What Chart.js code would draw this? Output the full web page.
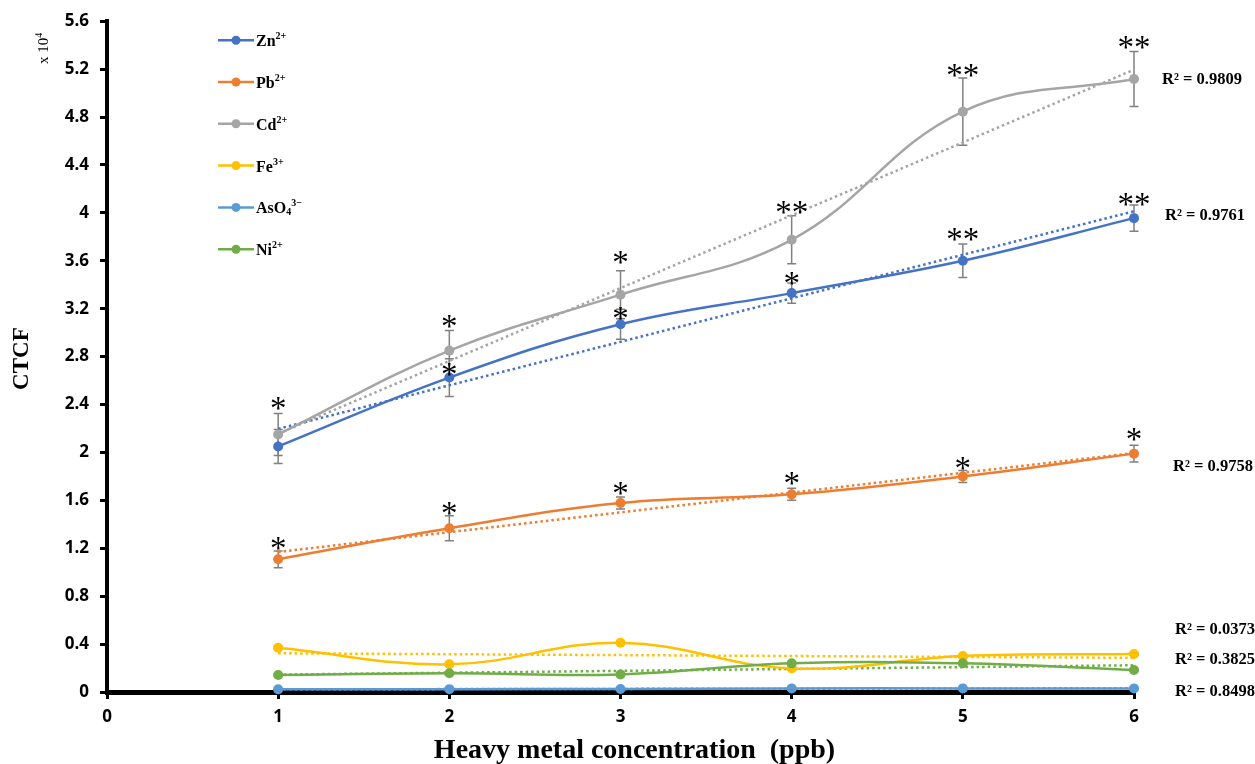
<!DOCTYPE html>
<html>
<head>
<meta charset="utf-8">
<script src="https://cdn.jsdelivr.net/npm/chart.js@4.4.1/dist/chart.umd.min.js"></script>
<style>
  html, body { margin: 0; padding: 0; background: #ffffff; }
  #wrap { width: 1255px; height: 764px; }
</style>
</head>
<body>
<div id="wrap"><canvas id="chart" width="1255" height="764"></canvas></div>
<script>
// Heavy metal concentration (ppb)
const concentrations = [1, 2, 3, 4, 5, 6];

// Mean CTCF (x 10^4) per metal ion
const zinc = [2.05, 2.625, 3.07, 3.33, 3.60, 3.956];
const lead = [1.108, 1.367, 1.578, 1.65, 1.80, 1.99];
const cadmium = [2.15, 2.85, 3.317, 3.775, 4.845, 5.117];
const iron = [0.369, 0.231, 0.411, 0.197, 0.30, 0.317];
const arsenate = [0.022, 0.024, 0.025, 0.03, 0.03, 0.03];
const nickel = [0.142, 0.156, 0.147, 0.239, 0.239, 0.183];

// Standard error (+/-)
const zincErr = [0.142, 0.158, 0.125, 0.085, 0.14, 0.11];
const leadErr = [0.07, 0.105, 0.05, 0.05, 0.05, 0.07];
const cadmiumErr = [0.175, 0.167, 0.2, 0.2, 0.28, 0.23];
const ironErr = [0.01, 0.01, 0.01, 0.01, 0.01, 0.01];
const arsenateErr = [0.005, 0.005, 0.005, 0.005, 0.005, 0.005];
const nickelErr = [0.01, 0.01, 0.01, 0.01, 0.01, 0.01];

// Significance marks and the level (CTCF units) each one sits at
const zincStars = ['', '*', '*', '*', '**', '**'];
const zincStarLevel = [0, 2.70, 3.167, 3.458, 3.833, 4.125];
const leadStars = ['*', '*', '*', '*', '*', '*'];
const leadStarLevel = [1.25, 1.542, 1.708, 1.792, 1.917, 2.158];
const cadmiumStars = ['*', '*', '*', '**', '**', '**'];
const cadmiumStarLevel = [2.417, 3.10, 3.633, 4.058, 5.20, 5.433];

// Coefficients of determination of the linear trends
const r2Text = ['R² = 0.9809', 'R² = 0.9761', 'R² = 0.9758', 'R² = 0.0373', 'R² = 0.3825', 'R² = 0.8498'];
const r2Level = [5.108, 3.975, 1.883, 0.517, 0.267, 0.0];

// Y tick values
const yTicks = [0, 0.4, 0.8, 1.2, 1.6, 2, 2.4, 2.8, 3.2, 3.6, 4, 4.4, 4.8, 5.2, 5.6];

const series = [
  { name: 'Zn', sup: '2+', sub: '', color: '#4472C4', values: zinc, err: zincErr },
  { name: 'Pb', sup: '2+', sub: '', color: '#ED7D31', values: lead, err: leadErr },
  { name: 'Cd', sup: '2+', sub: '', color: '#A5A5A5', values: cadmium, err: cadmiumErr },
  { name: 'Fe', sup: '3+', sub: '', color: '#FFC000', values: iron, err: ironErr },
  { name: 'AsO', sup: '3\u2212', sub: '4', color: '#5B9BD5', values: arsenate, err: arsenateErr },
  { name: 'Ni', sup: '2+', sub: '', color: '#70AD47', values: nickel, err: nickelErr }
];

const starSets = [
  { marks: zincStars, levels: zincStarLevel },
  { marks: leadStars, levels: leadStarLevel },
  { marks: cadmiumStars, levels: cadmiumStarLevel }
];

// least-squares line through a series
function linearFit(xs, ys) {
  const n = xs.length;
  const mx = xs.reduce((a, b) => a + b, 0) / n;
  const my = ys.reduce((a, b) => a + b, 0) / n;
  let sxy = 0, sxx = 0;
  for (let i = 0; i < n; i++) {
    sxy += (xs[i] - mx) * (ys[i] - my);
    sxx += (xs[i] - mx) * (xs[i] - mx);
  }
  const slope = sxy / sxx;
  return x => my + slope * (x - mx);
}

const datasets = [];
series.forEach((s, i) => {
  datasets.push({
    label: s.name,
    data: concentrations.map((c, k) => ({ x: c, y: s.values[k] })),
    borderColor: s.color,
    backgroundColor: s.color,
    borderWidth: 2.5,
    pointRadius: 5,
    pointBorderWidth: 0,
    pointBackgroundColor: s.color,
    tension: 0.4,
    clip: false,
    order: 10 - i,
    errorBars: s.err
  });
});
series.forEach((s, i) => {
  const fit = linearFit(concentrations, s.values);
  const x0 = concentrations[0], x1 = concentrations[concentrations.length - 1];
  datasets.push({
    label: s.name + ' trend',
    data: [{ x: x0, y: fit(x0) }, { x: x1, y: fit(x1) }],
    borderColor: s.color,
    borderWidth: 2.5,
    borderDash: [2.5, 3],
    pointRadius: 0,
    tension: 0,
    clip: false,
    order: 20 - i
  });
});

const serif = '"Liberation Serif", "Times New Roman", serif';

function drawRich(ctx, x, y, parts) {
  let cx = x;
  parts.forEach(p => {
    ctx.font = p.font;
    ctx.fillText(p.text, cx, y + (p.dy || 0));
    cx += ctx.measureText(p.text).width;
  });
  return cx;
}

const decorations = {
  id: 'decorations',
  beforeDatasetsDraw(chart) {
    const { ctx, scales: { x, y } } = chart;
    ctx.save();
    ctx.strokeStyle = '#808080';
    ctx.lineWidth = 1.5;
    chart.data.datasets.forEach(ds => {
      if (!ds.errorBars) return;
      ds.data.forEach((p, k) => {
        const e = ds.errorBars[k];
        const px = x.getPixelForValue(p.x);
        const top = y.getPixelForValue(p.y + e);
        const bot = y.getPixelForValue(p.y - e);
        ctx.beginPath();
        ctx.moveTo(px, top); ctx.lineTo(px, bot);
        ctx.moveTo(px - 4.5, top); ctx.lineTo(px + 4.5, top);
        ctx.moveTo(px - 4.5, bot); ctx.lineTo(px + 4.5, bot);
        ctx.stroke();
      });
    });
    ctx.restore();
  },
  afterDraw(chart) {
    const { ctx, chartArea, scales: { x, y } } = chart;
    ctx.save();

    // significance marks
    ctx.fillStyle = '#000';
    ctx.font = '33px ' + serif;
    ctx.textAlign = 'center';
    ctx.textBaseline = 'middle';
    starSets.forEach(set => {
      set.marks.forEach((m, k) => {
        if (!m) return;
        const px = x.getPixelForValue(concentrations[k]);
        const py = y.getPixelForValue(set.levels[k]);
        ctx.fillText(m, px, py + 8);
      });
    });

    // R² labels
    ctx.textAlign = 'left';
    ctx.textBaseline = 'middle';
    ctx.font = 'bold 16.5px ' + serif;
    const r2x = [1162, 1165, 1173, 1175, 1175, 1175];
    r2Text.forEach((t, i) => {
      ctx.fillText(t, r2x[i], y.getPixelForValue(r2Level[i]));
    });

    // legend
    const lx = chartArea.left + 111, ly = chartArea.top + 19, step = 41.8;
    series.forEach((s, i) => {
      const yy = ly + i * step;
      ctx.strokeStyle = s.color;
      ctx.lineWidth = 2.5;
      ctx.beginPath();
      ctx.moveTo(lx, yy); ctx.lineTo(lx + 36, yy);
      ctx.stroke();
      ctx.fillStyle = s.color;
      ctx.beginPath();
      ctx.arc(lx + 18, yy, 4.5, 0, Math.PI * 2);
      ctx.fill();
      ctx.fillStyle = '#000';
      ctx.textBaseline = 'alphabetic';
      const parts = [{ text: s.name, font: 'bold 16px ' + serif, dy: 6 }];
      if (s.sub) parts.push({ text: s.sub, font: 'bold 10px ' + serif, dy: 8 });
      parts.push({ text: s.sup, font: 'bold 10px ' + serif, dy: -1 });
      drawRich(ctx, lx + 38, yy, parts);
    });

    // axis titles
    ctx.fillStyle = '#000';
    ctx.textAlign = 'center';
    ctx.textBaseline = 'middle';
    ctx.font = 'bold 28px ' + serif;
    ctx.fillText('Heavy metal concentration  (ppb)', (chartArea.left + chartArea.right) / 2 + 14, chartArea.bottom + 59);

    ctx.save();
    ctx.translate(22, (chartArea.top + chartArea.bottom) / 2 + 2);
    ctx.rotate(-Math.PI / 2);
    ctx.font = 'bold 23px ' + serif;
    ctx.fillText('CTCF', 0, 0);
    ctx.restore();

    // axis multiplier
    ctx.save();
    ctx.translate(44, 64);
    ctx.rotate(-Math.PI / 2);
    ctx.textAlign = 'left';
    ctx.textBaseline = 'middle';
    drawRich(ctx, 0, 0, [
      { text: 'x 10', font: '15px ' + serif, dy: 0 },
      { text: '4', font: '10px ' + serif, dy: -5 }
    ]);
    ctx.restore();

    ctx.restore();
  }
};

const tickFont = { family: '"Open Sans", "Liberation Sans", sans-serif', weight: 'bold', size: 17 };

new Chart(document.getElementById('chart'), {
  type: 'line',
  data: { datasets },
  options: {
    responsive: false,
    animation: false,
    layout: { padding: { top: 20, right: 121, bottom: 0, left: 0 } },
    plugins: { legend: { display: false }, tooltip: { enabled: false } },
    scales: {
      x: {
        type: 'linear',
        min: 0,
        max: 6,
        ticks: { stepSize: 1, color: '#000', font: tickFont, padding: 8 },
        grid: { drawOnChartArea: false, drawTicks: true, tickLength: 7, color: '#000', lineWidth: 3 },
        border: { display: true, color: '#000', width: 5 },
        afterFit(scale) { scale.height = 72; }
      },
      y: {
        min: 0,
        max: 5.6,
        afterBuildTicks(scale) { scale.ticks = yTicks.map(v => ({ value: v })); },
        ticks: {
          color: '#000',
          font: tickFont,
          padding: 11,
          callback: v => String(Number(v.toFixed(1)))
        },
        grid: { drawOnChartArea: false, drawTicks: true, tickLength: 7, color: '#000', lineWidth: 3 },
        border: { display: true, color: '#000', width: 4 },
        afterFit(scale) { scale.width = 107; }
      }
    }
  },
  plugins: [decorations]
});
</script>
</body>
</html>
